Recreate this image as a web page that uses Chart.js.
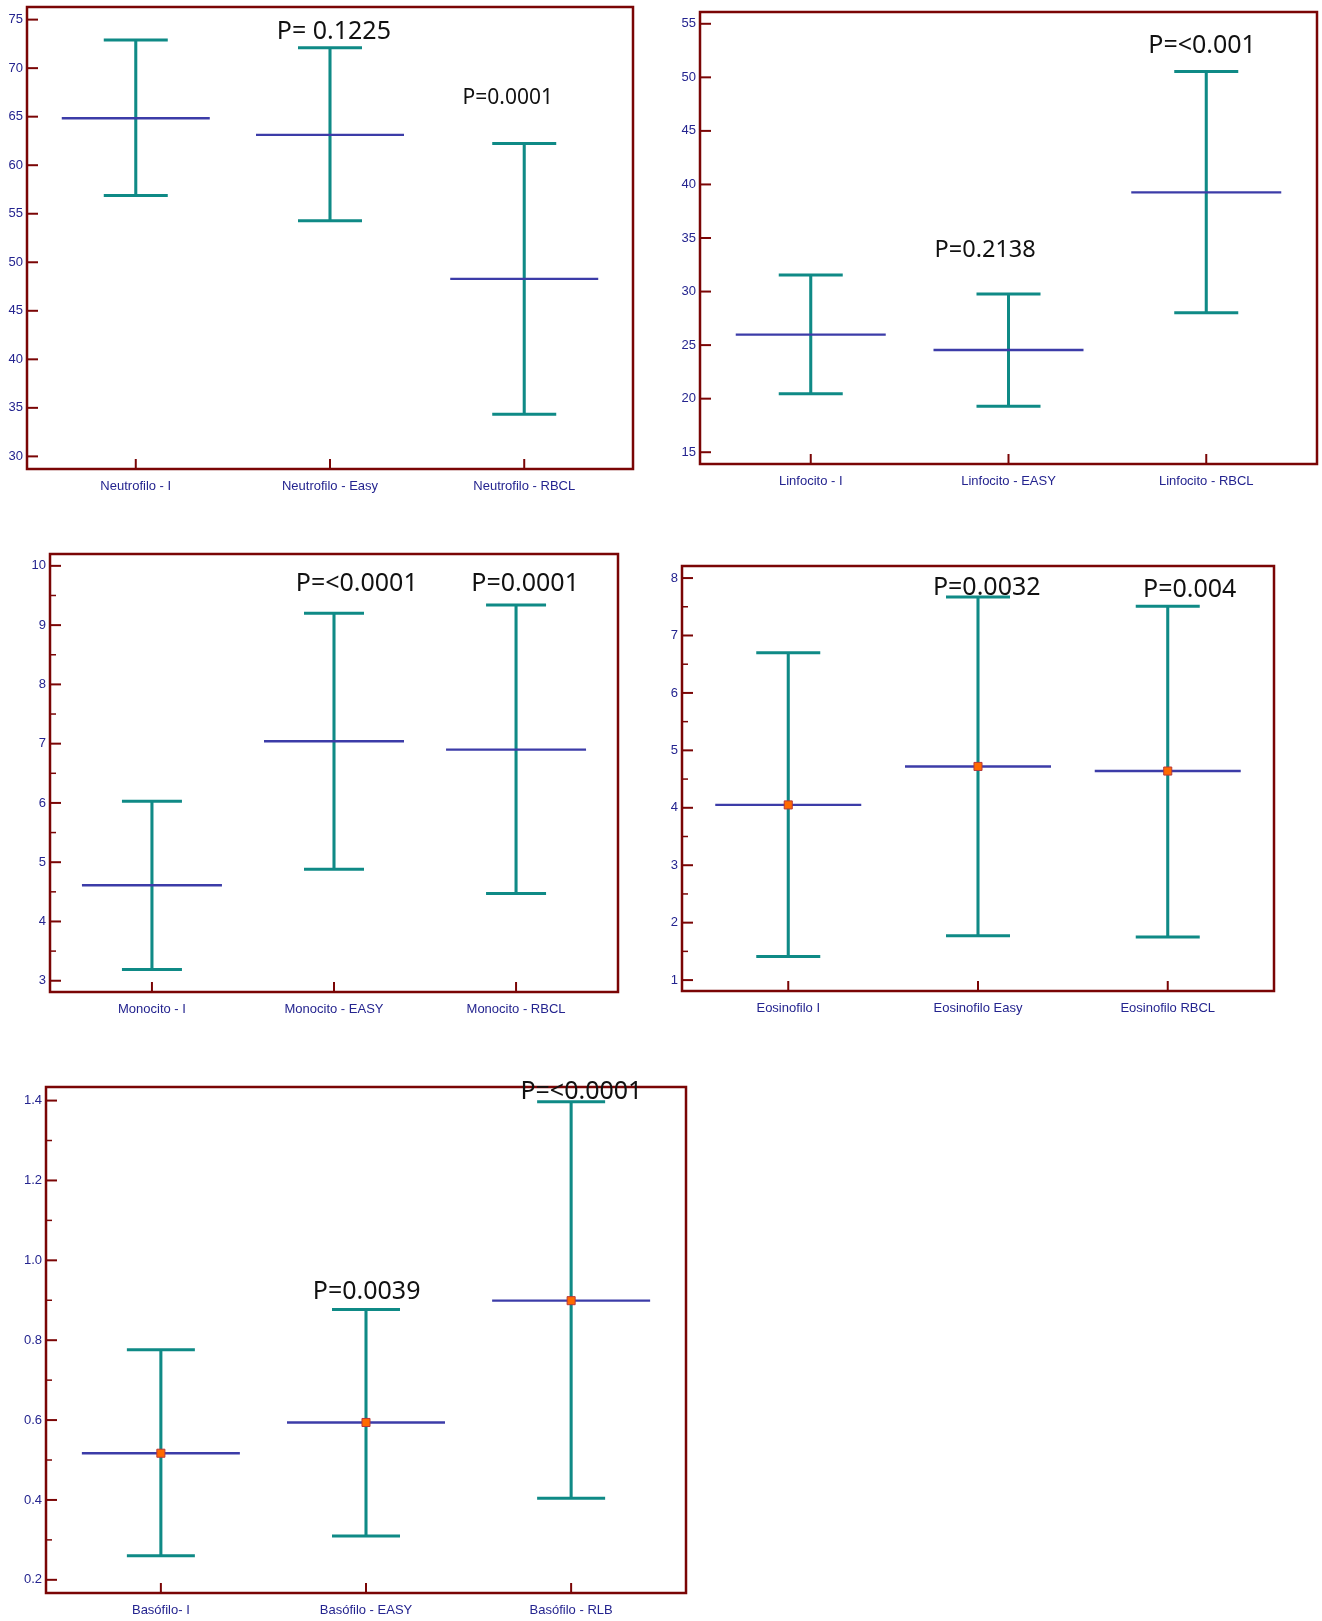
<!DOCTYPE html>
<html>
<head>
<meta charset="utf-8">
<script src="https://cdn.jsdelivr.net/npm/chart.js@4.4.1/dist/chart.umd.min.js"></script>
<style>
    body { margin: 0; background: #fff; }
    #page { position: relative; width: 1322px; height: 1621px; overflow: hidden; }
    canvas { position: absolute; }
</style>
</head>
<body>
<div id="page">
    <canvas id="neutro"></canvas>
    <canvas id="linfo"></canvas>
    <canvas id="mono"></canvas>
    <canvas id="eosino"></canvas>
    <canvas id="baso"></canvas>
</div>
<script>
// Neutrofilo
const neutroLabels = ['Neutrofilo - I', 'Neutrofilo - Easy', 'Neutrofilo - RBCL']
const neutroMean = [64.84, 63.13, 48.29]
const neutroLow = [56.87, 54.28, 34.34]
const neutroHigh = [72.9, 72.1, 62.24]
const neutroTicks = [30, 35, 40, 45, 50, 55, 60, 65, 70, 75]
const neutroMinor = []
const neutroRange = [28.7, 76.3]
const neutroNotes = [
    { x: 1.02, y: 73.93, text: 'P= 0.1225', size: 25 },
    { x: 1.915, y: 67.13, text: 'P=0.0001', size: 21 },
]

// Linfocito
const linfoLabels = ['Linfocito - I', 'Linfocito - EASY', 'Linfocito - RBCL']
const linfoMean = [25.98, 24.55, 39.26]
const linfoLow = [20.47, 19.29, 28.03]
const linfoHigh = [31.55, 29.77, 50.55]
const linfoTicks = [15, 20, 25, 30, 35, 40, 45, 50, 55]
const linfoMinor = []
const linfoRange = [13.9, 56.1]
const linfoNotes = [
    { x: 1.979, y: 53.17, text: 'P=<0.001', size: 25 },
    { x: 0.882, y: 34.06, text: 'P=0.2138', size: 23.5 },
]

// Monocito
const monoLabels = ['Monocito - I', 'Monocito - EASY', 'Monocito - RBCL']
const monoMean = [4.61, 7.04, 6.90]
const monoLow = [3.19, 4.88, 4.47]
const monoHigh = [6.03, 9.20, 9.34]
const monoTicks = [3, 4, 5, 6, 7, 8, 9, 10]
const monoMinor = [3.5, 4.5, 5.5, 6.5, 7.5, 8.5, 9.5]
const monoRange = [2.81, 10.2]
const monoNotes = [
    { x: 1.125, y: 9.73, text: 'P=<0.0001', size: 25 },
    { x: 2.05, y: 9.73, text: 'P=0.0001', size: 25 },
]

// Eosinofilo
const eosinoLabels = ['Eosinofilo I', 'Eosinofilo Easy', 'Eosinofilo RBCL']
const eosinoMean = [4.05, 4.72, 4.64]
const eosinoLow = [1.41, 1.77, 1.75]
const eosinoHigh = [6.70, 7.67, 7.51]
const eosinoTicks = [1, 2, 3, 4, 5, 6, 7, 8]
const eosinoMinor = [1.5, 2.5, 3.5, 4.5, 5.5, 6.5, 7.5]
const eosinoRange = [0.81, 8.21]
const eosinoNotes = [
    { x: 1.046, y: 7.86, text: 'P=0.0032', size: 25 },
    { x: 2.116, y: 7.83, text: 'P=0.004', size: 25 },
]

// Basófilo
const basoLabels = ['Basófilo- I', 'Basófilo - EASY', 'Basófilo - RLB']
const basoMean = [0.517, 0.594, 0.899]
const basoLow = [0.260, 0.310, 0.404]
const basoHigh = [0.776, 0.877, 1.397]
const basoTicks = [0.2, 0.4, 0.6, 0.8, 1.0, 1.2, 1.4]
const basoMinor = [0.3, 0.5, 0.7, 0.9, 1.1, 1.3]
const basoRange = [0.167, 1.434]
const basoNotes = [
    { x: 2.05, y: 1.428, text: 'P=<0.0001', size: 25 },
    { x: 1.003, y: 0.926, text: 'P=0.0039', size: 25 },
]

const TEAL = '#0f8a86'
const BLUE = '#3c3ca8'
const FRAME = '#7a0505'
const NAVY = '#24248f'

// draws the closed frame, inward tick marks and the P labels
const framePlugin = {
    id: 'frame',
    afterDraw(chart, args, opts) {
        const ctx = chart.ctx
        const a = chart.chartArea
        const x = chart.scales.x
        const y = chart.scales.y
        ctx.save()
        ctx.strokeStyle = FRAME
        ctx.lineWidth = 2
        opts.ticks.forEach(v => {
            const py = y.getPixelForValue(v)
            ctx.beginPath(); ctx.moveTo(a.left, py); ctx.lineTo(a.left + 11, py); ctx.stroke()
        })
        ctx.lineWidth = 1.5
        opts.minor.forEach(v => {
            const py = y.getPixelForValue(v)
            ctx.beginPath(); ctx.moveTo(a.left, py); ctx.lineTo(a.left + 6, py); ctx.stroke()
        })
        ctx.lineWidth = 2
        opts.labels.forEach((l, i) => {
            const px = x.getPixelForValue(i)
            ctx.beginPath(); ctx.moveTo(px, a.bottom); ctx.lineTo(px, a.bottom - 10); ctx.stroke()
        })
        ctx.lineWidth = 2.5
        ctx.strokeRect(a.left, a.top, a.right - a.left, a.bottom - a.top)

        ctx.fillStyle = '#111'
        ctx.textAlign = 'center'
        ctx.textBaseline = 'middle'
        opts.notes.forEach(n => {
            ctx.font = n.size + 'px "Noto Sans"'
            ctx.fillText(n.text, x.getPixelForValue(n.x), y.getPixelForValue(n.y) + 2)
        })
        ctx.restore()
    }
}

function makePanel(id, box, p) {
    const canvas = document.getElementById(id)
    const padL = 40, padT = 24, padR = 6, padB = 30
    canvas.width = (box.r - box.l) + padL + padR
    canvas.height = (box.b - box.t) + padT + padB
    canvas.style.left = (box.l - padL) + 'px'
    canvas.style.top = (box.t - padT) + 'px'

    const idx = p.labels.map((l, i) => i)
    const datasets = [
        {
            type: 'bar',
            data: idx.map(i => ({ x: i, y: [p.low[i], p.high[i]] })),
            backgroundColor: TEAL,
            borderWidth: 0,
            barThickness: 2.4,
            order: 5,
        },
        {
            type: 'line',
            data: idx.map(i => ({ x: i, y: p.high[i] })),
            showLine: false,
            pointStyle: 'line',
            pointRadius: box.cap,
            pointBorderWidth: 3,
            pointBorderColor: TEAL,
            order: 4,
        },
        {
            type: 'line',
            data: idx.map(i => ({ x: i, y: p.low[i] })),
            showLine: false,
            pointStyle: 'line',
            pointRadius: box.cap,
            pointBorderWidth: 3,
            pointBorderColor: TEAL,
            order: 4,
        },
        {
            type: 'line',
            data: idx.map(i => ({ x: i, y: p.mean[i] })),
            showLine: false,
            pointStyle: 'line',
            pointRadius: box.mean,
            pointBorderWidth: 2.4,
            pointBorderColor: BLUE,
            order: 3,
        },
    ]
    if (p.marker) {
        datasets.push({
            type: 'line',
            data: idx.map(i => ({ x: i, y: p.mean[i] })),
            showLine: false,
            pointStyle: 'rect',
            pointRadius: 5.7,
            pointBorderWidth: 1,
            pointBackgroundColor: '#ff6a00',
            pointBorderColor: '#b8383a',
            order: 1,
        })
    }

    new Chart(canvas.getContext('2d'), {
        type: 'bar',
        data: { datasets: datasets },
        plugins: [framePlugin],
        options: {
            responsive: false,
            animation: false,
            events: [],
            layout: { autoPadding: false, padding: { left: 0, top: padT, right: padR, bottom: 0 } },
            plugins: {
                legend: { display: false },
                tooltip: { enabled: false },
                frame: { ticks: p.ticks, minor: p.minor, labels: p.labels, notes: p.notes },
            },
            scales: {
                x: {
                    type: 'linear',
                    min: -0.56,
                    max: 2.56,
                    offset: false,
                    grid: { display: false, drawTicks: false },
                    border: { display: false },
                    afterBuildTicks: s => { s.ticks = idx.map(i => ({ value: i })) },
                    afterFit: s => { s.height = padB },
                    ticks: {
                        padding: 10,
                        color: NAVY,
                        font: { family: '"Liberation Sans"', size: 13 },
                        callback: v => p.labels[v],
                    },
                },
                y: {
                    min: p.range[0],
                    max: p.range[1],
                    grid: { display: false, drawTicks: false },
                    border: { display: false },
                    afterBuildTicks: s => { s.ticks = p.ticks.map(v => ({ value: v })) },
                    afterFit: s => { s.width = padL },
                    ticks: {
                        padding: 4,
                        color: NAVY,
                        font: { family: '"Liberation Sans"', size: 13 },
                        callback: v => v.toFixed(p.decimals),
                    },
                },
            },
        },
    })
}

window.onload = function () {
    makePanel('neutro', { l: 27, t: 7, r: 633, b: 469, cap: 32, mean: 74 }, {
        labels: neutroLabels, mean: neutroMean, low: neutroLow, high: neutroHigh,
        ticks: neutroTicks, minor: neutroMinor, range: neutroRange, notes: neutroNotes, decimals: 0,
    })
    makePanel('linfo', { l: 700, t: 12, r: 1317, b: 464, cap: 32, mean: 75 }, {
        labels: linfoLabels, mean: linfoMean, low: linfoLow, high: linfoHigh,
        ticks: linfoTicks, minor: linfoMinor, range: linfoRange, notes: linfoNotes, decimals: 0,
    })
    makePanel('mono', { l: 50, t: 554, r: 618, b: 992, cap: 30, mean: 70 }, {
        labels: monoLabels, mean: monoMean, low: monoLow, high: monoHigh,
        ticks: monoTicks, minor: monoMinor, range: monoRange, notes: monoNotes, decimals: 0,
    })
    makePanel('eosino', { l: 682, t: 566, r: 1274, b: 991, cap: 32, mean: 73 }, {
        labels: eosinoLabels, mean: eosinoMean, low: eosinoLow, high: eosinoHigh,
        ticks: eosinoTicks, minor: eosinoMinor, range: eosinoRange, notes: eosinoNotes, decimals: 0,
        marker: true,
    })
    makePanel('baso', { l: 46, t: 1087, r: 686, b: 1593, cap: 34, mean: 79 }, {
        labels: basoLabels, mean: basoMean, low: basoLow, high: basoHigh,
        ticks: basoTicks, minor: basoMinor, range: basoRange, notes: basoNotes, decimals: 1,
        marker: true,
    })
}
</script>
</body>
</html>
